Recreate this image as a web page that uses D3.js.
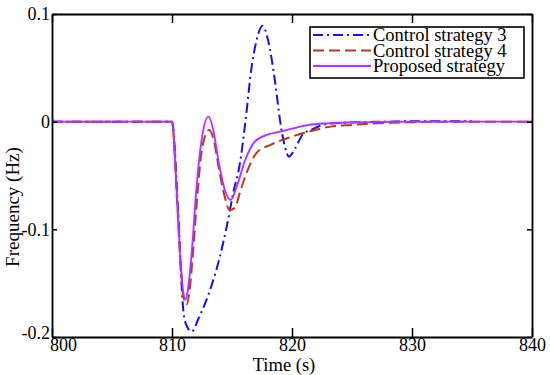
<!DOCTYPE html>
<html>
<head>
<meta charset="utf-8">
<script src="https://cdn.jsdelivr.net/npm/d3@7"></script>
<style>
  body { margin: 0; background: #fff; }
  svg { display: block; font-family: 'Liberation Serif', 'Times New Roman', serif; }
</style>
</head>
<body>
<div id="chart"></div>
<script>
// data
const seriesNames = ['Control strategy 3', 'Control strategy 4', 'Proposed strategy'];

const timeS3 = [800, 810, 810.5, 810.94, 811.2, 811.64, 812.2, 812.75, 813.3, 814.0, 814.56, 815.1, 815.67,
  816.2, 816.6, 817.06, 817.55, 818.0, 818.6, 819.0, 819.4, 819.75, 820.25, 820.95, 821.6, 822.3, 823,
  824.5, 826, 828, 831, 835];
const freqS3 = [0, 0, -0.082, -0.175, -0.189, -0.195, -0.183, -0.169, -0.152, -0.125, -0.0975, -0.0665, -0.038,
  0.008, 0.048, 0.076, 0.089, 0.076, 0.036, 0.0015, -0.023, -0.0325, -0.025, -0.011, -0.0077, -0.004, -0.002,
  -0.001, -0.0005, 0, 0.0005, 0.0005];

const timeS4 = [800, 810, 810.4, 810.7, 811.0, 811.2, 811.45, 811.7, 812.1, 812.5, 813.1, 813.5, 813.9, 814.4,
  814.8, 815.25, 815.6, 816.1, 817.05, 818.2, 819.6, 821.4, 823.2, 825, 827, 830, 833, 840];
const freqS4 = [0, 0, -0.068, -0.13, -0.165, -0.170, -0.158, -0.128, -0.07, -0.025, -0.0077, -0.018, -0.043, -0.07,
  -0.082, -0.080, -0.068, -0.051, -0.029, -0.0216, -0.0154, -0.0093, -0.0046, -0.003, -0.0015, -0.0005, 0, 0];

const timeProp = [800, 810, 810.4, 810.67, 810.9, 811.08, 811.3, 811.64, 812.05, 812.47, 813.03, 813.44, 813.86,
  814.4, 814.9, 815.4, 816.1, 816.9, 817.9, 819.0, 820.1, 821.4, 823, 825, 827, 830, 840];
const freqProp = [0, 0, -0.066, -0.122, -0.155, -0.1655, -0.158, -0.122, -0.060, -0.017, 0.0046, -0.0077, -0.0356,
  -0.0634, -0.0727, -0.060, -0.0356, -0.0186, -0.0123, -0.0093, -0.0062, -0.003, -0.0015, -0.0007, -0.0003, 0, 0];

const xTicks = [800, 810, 820, 830, 840];
const yTicks = [-0.2, -0.1, 0, 0.1];
const yTickLabels = ['-0.2', '-0.1', '0', '0.1'];

const width = 550;
const height = 375;
const margin = {top: 14, right: 18, bottom: 38, left: 52};
const plotW = width - margin.left - margin.right;
const plotH = height - margin.top - margin.bottom;

const colors = ['#1515cc', '#b23a1e', '#9a40ee'];
const dashes = ['10,4,2,4', '11,5', null];

const xScale = d3.scaleLinear().domain([800, 840]).range([0, plotW]);
const yScale = d3.scaleLinear().domain([-0.2, 0.1]).range([plotH, 0]);

const svg = d3.select('#chart').append('svg').attr('width', width).attr('height', height);
const g = svg.append('g').attr('transform', 'translate(' + margin.left + ',' + margin.top + ')');

const toPoints = (ts, vs) => ts.map((t, i) => ({t: t, v: vs[i]}));
const allSeries = [toPoints(timeS3, freqS3), toPoints(timeS4, freqS4), toPoints(timeProp, freqProp)];

const line = d3.line()
  .x(d => xScale(d.t))
  .y(d => yScale(d.v))
  .curve(d3.curveMonotoneX);

const plot = g.append('g');
plot.append('clipPath').attr('id', 'clip')
  .append('rect').attr('width', plotW).attr('height', plotH);
const lines = plot.append('g').attr('clip-path', 'url(#clip)');

// faint pink haze seen round the proposed curve
lines.append('path').datum(allSeries[2])
  .attr('d', line).attr('fill', 'none')
  .attr('stroke', '#fdedf9').attr('stroke-width', 6).attr('stroke-linejoin', 'round');

allSeries.forEach(function(s, i) {
  lines.append('path').datum(s)
    .attr('d', line)
    .attr('fill', 'none')
    .attr('stroke', colors[i])
    .attr('stroke-width', i === 2 ? 1.8 : 2)
    .attr('stroke-dasharray', dashes[i]);
});

// axes with inward ticks, box all round
const axisBottom = d3.axisBottom(xScale).tickValues(xTicks).tickSizeInner(-9).tickSizeOuter(0).tickFormat(d3.format('d'));
const axisTop = d3.axisTop(xScale).tickValues(xTicks).tickSizeInner(-9).tickSizeOuter(0).tickFormat('');
const axisLeft = d3.axisLeft(yScale).tickValues(yTicks).tickSizeInner(-5).tickSizeOuter(0)
  .tickFormat((d, i) => yTickLabels[i]);
const axisRight = d3.axisRight(yScale).tickValues(yTicks).tickSizeInner(-5).tickSizeOuter(0).tickFormat('');

const gx = g.append('g').attr('transform', 'translate(0,' + plotH + ')').call(axisBottom);
g.append('g').call(axisTop);
const gy = g.append('g').call(axisLeft);
g.append('g').attr('transform', 'translate(' + plotW + ',0)').call(axisRight);

g.selectAll('.domain').attr('stroke', '#000').attr('stroke-width', 1.8);
g.selectAll('.tick line').attr('stroke', '#000').attr('stroke-width', 1.5);

gx.selectAll('text')
  .attr('font-size', 18).attr('font-family', 'Liberation Serif').attr('fill', '#000')
  .attr('dy', '0.65em').attr('y', 2)
  .attr('dx', (d, i) => i === 0 ? 11 : 0);
gy.selectAll('text')
  .attr('font-size', 18).attr('font-family', 'Liberation Serif').attr('fill', '#000')
  .attr('x', -2)
  .attr('dy', (d, i) => i === 0 ? '0.1em' : '0.32em');

// axis titles
svg.append('text').text('Time (s)')
  .attr('x', 284).attr('y', 371)
  .attr('text-anchor', 'middle').attr('font-size', 18.5).attr('fill', '#000');
svg.append('text').text('Frequency (Hz)')
  .attr('transform', 'translate(19,207) rotate(-90)')
  .attr('text-anchor', 'middle').attr('font-size', 19).attr('fill', '#000');

// legend
const legend = svg.append('g').attr('transform', 'translate(310,27)');
legend.append('rect').attr('width', 214).attr('height', 51)
  .attr('fill', '#fff').attr('stroke', '#000').attr('stroke-width', 1.6);
const rowY = d3.scalePoint().domain(seriesNames).range([8, 39]);
const items = legend.selectAll('g.item').data(seriesNames).enter().append('g')
  .attr('transform', d => 'translate(0,' + rowY(d) + ')');
items.filter((d, i) => i === 2).append('line')
  .attr('x1', 3).attr('x2', 61).attr('stroke', '#fdedf9').attr('stroke-width', 6);
items.append('line')
  .attr('x1', 3).attr('x2', 61)
  .attr('stroke', (d, i) => colors[i])
  .attr('stroke-width', 2)
  .attr('stroke-dasharray', (d, i) => dashes[i]);
items.append('text').text(d => d)
  .attr('x', 63).attr('y', 6)
  .attr('font-size', 18.5).attr('fill', '#000');
</script>
</body>
</html>
